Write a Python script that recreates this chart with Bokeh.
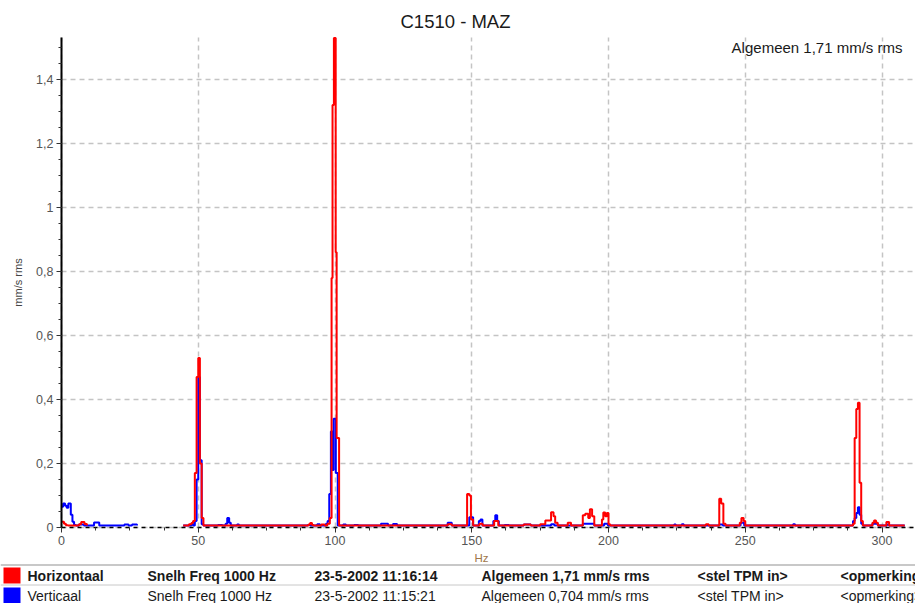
import math
from bokeh.plotting import figure
from bokeh.models import Range1d, FixedTicker, Grid
from bokeh.embed import file_html
from bokeh.resources import INLINE
from bokeh.core.properties import value

nan = float("nan")

# ---- data: Horizontaal (red) spectrum, step segments (Hz start, mm/s rms) ----
h_freq = [0.0, 0.9, 1.6, 2.4, 6.4, 7.2, 8.4, 9.3, 28.3, 37.5, 38.6, 44.5, 46.6, 47.5, 48.1,
          48.75, 49.4, 50.0, 50.6, 51.25, 51.9, 90.3, 90.9, 91.6, 92.2, 95.0, 96.2, 97.2, 98.1,
          98.75, 99.1, 99.6, 100.25, 100.6, 101.5, 141.2, 142.7, 148.3, 149.1, 149.7, 150.5,
          152.8, 154.0, 158.2, 159.7, 169.0, 171.6, 175.0, 176.9, 179.0, 179.9, 180.5, 181.4,
          185.1, 186.3, 190.6, 191.5, 192.6, 193.2, 194.0, 194.8, 197.6, 198.1, 198.8, 199.4,
          200.0, 200.6, 235.6, 236.6, 240.5, 241.2, 242.0, 242.8, 248.0, 248.6, 249.4, 250.0,
          289.4, 290.0, 290.6, 291.2, 291.8, 292.4, 293.0, 296.5, 297.1, 297.8, 298.5, 301.6,
          302.6, 308.3]
h_val = [0.018, 0.012, 0.007, 0.006, 0.010, 0.017, 0.011, 0.006, nan, 0.006, nan, 0.006, 0.010, 0.014, 0.020,
         0.17, 0.47, 0.53, 0.20, 0.03, 0.006, 0.009, 0.014, 0.008, 0.006, 0.009, 0.006, 0.012, 0.03,
         0.78, 1.32, 1.53, 0.86, 0.28, 0.006, 0.010, 0.006, 0.105, 0.10, 0.025, 0.006,
         0.012, 0.006, 0.020, 0.006, 0.009, 0.006, 0.010, 0.022, 0.048, 0.035, 0.015, 0.006,
         0.015, 0.006, 0.038, 0.043, 0.030, 0.057, 0.035, 0.006, 0.025, 0.047, 0.035, 0.045,
         0.010, 0.006, 0.010, 0.006, 0.09, 0.075, 0.012, 0.006, 0.015, 0.030, 0.020, 0.006,
         0.012, 0.28, 0.37, 0.39, 0.14, 0.02, 0.006, 0.015, 0.022, 0.015, 0.006, 0.017,
         0.006, 0.006]

# ---- data: Verticaal (blue) spectrum ----
v_freq = [0.0, 0.6, 1.3, 1.9, 2.5, 3.4, 4.0, 4.6, 5.3, 6.4, 8.2, 11.9, 13.8, 23.0, 24.5, 25.8, 27.6,
          28.3, 44.5, 47.5, 48.1, 48.75, 49.4, 50.0, 50.6, 51.25, 51.9, 57.2, 58.8, 60.0, 60.6,
          61.3, 61.9, 64.2, 64.9, 90.0, 91.0, 93.5, 94.5, 96.7, 97.3, 97.9, 98.5, 99.0, 99.5,
          100.3, 101.0, 103.0, 104.0, 107.0, 108.5, 116.8, 119.4, 121.2, 122.7, 141.2, 142.7,
          149.1, 150.5, 152.6, 153.2, 153.9, 157.9, 158.6, 159.3, 159.9, 162.0, 163.6, 169.0,
          171.6, 179.0, 180.2, 190.6, 194.8, 198.4, 199.8, 224.0, 224.6, 226.8, 227.5, 240.5,
          241.8, 248.3, 249.6, 267.5, 268.2, 289.4, 290.0, 290.6, 291.2, 291.8, 292.4, 293.0,
          296.5, 298.5, 301.8, 302.6, 308.3]
v_val = [0.065, 0.075, 0.068, 0.062, 0.075, 0.040, 0.018, 0.008, 0.006, 0.009, 0.006, 0.016, 0.006, 0.009, 0.006, 0.009, 0.006,
         nan, 0.006, 0.012, 0.006, 0.02, 0.15, 0.47, 0.21, 0.01, 0.006, 0.008, 0.006, 0.012, 0.030,
         0.015, 0.006, 0.009, 0.006, 0.008, 0.006, 0.010, 0.006, 0.012, 0.02, 0.105, 0.30, 0.18, 0.34,
         0.17, 0.006, 0.009, 0.006, 0.008, 0.006, 0.012, 0.006, 0.011, 0.006, 0.015, 0.006,
         0.032, 0.006, 0.020, 0.025, 0.006, 0.020, 0.038, 0.020, 0.006, 0.008, 0.006, 0.009,
         0.006, 0.010, 0.006, 0.012, 0.006, 0.012, 0.006, 0.009, 0.006, 0.010, 0.006, 0.009,
         0.006, 0.015, 0.006, 0.010, 0.006, 0.020, 0.030, 0.045, 0.063, 0.040, 0.012, 0.006,
         0.012, 0.006, 0.009, 0.006, 0.006]

# ---- axes ticks / labels ----
x_ticks = [0, 50, 100, 150, 200, 250, 300]
x_minor = [0, 12.5, 25, 37.5, 50, 62.5, 75, 87.5, 100, 112.5, 125, 137.5, 150, 162.5, 175,
           187.5, 200, 212.5, 225, 237.5, 250, 262.5, 275, 287.5, 300]
y_ticks = [0, 0.2, 0.4, 0.6, 0.8, 1.0, 1.2, 1.4]
y_tick_labels = ["0", "0,2", "0,4", "0,6", "0,8", "1", "1,2", "1,4"]
y_minor = [0, 0.05, 0.1, 0.15, 0.2, 0.25, 0.3, 0.35, 0.4, 0.45, 0.5, 0.55, 0.6, 0.65, 0.7, 0.75,
           0.8, 0.85, 0.9, 0.95, 1.0, 1.05, 1.1, 1.15, 1.2, 1.25, 1.3, 1.35, 1.4, 1.45, 1.5]
x_max = 312.3
y_max = 1.53

# ---- legend table ----
series_names = ["Horizontaal", "Verticaal"]
series_colors = ["#ff0000", "#0000ff"]
mode_text = ["Snelh Freq 1000 Hz", "Snelh Freq 1000 Hz"]
date_text = ["23-5-2002 11:16:14", "23-5-2002 11:15:21"]
overall_text = ["Algemeen 1,71 mm/s rms", "Algemeen 0,704 mm/s rms"]
rpm_text = ["<stel TPM in>", "<stel TPM in>"]
note_text = ["<opmerking>", "<opmerking>"]

title_text = "C1510 - MAZ"
x_label = "Hz"
y_label = "mm/s rms"

FONT = "Liberation Sans"
W, H = 915, 603
X0, XS = 61.0, 2.735      # pixel of 0 Hz, pixels per Hz
Y0, YS = 527.0, 320.0     # pixel of 0 mm/s, pixels per mm/s


def dx(px):   # page pixel -> data x (for placing texts / legend pieces)
    return (px - X0) / XS


def dy(py):
    return (Y0 - py) / YS


p = figure(width=W, height=H, output_backend="svg", toolbar_location=None,
           x_range=Range1d(dx(0), dx(W)), y_range=Range1d(dy(H), dy(0)),
           min_border_left=0, min_border_right=0, min_border_top=0, min_border_bottom=0,
           title=None)
p.outline_line_color = None
p.background_fill_color = "white"
p.border_fill_color = "white"

# axes fixed at the origin, inside the full-canvas frame
p.xaxis.fixed_location = 0
p.yaxis.fixed_location = 0
p.xaxis.bounds = (0, x_max)
p.yaxis.bounds = (0, y_max)
p.xaxis.ticker = FixedTicker(ticks=x_ticks, minor_ticks=x_minor)
p.yaxis.ticker = FixedTicker(ticks=y_ticks, minor_ticks=y_minor)
p.yaxis.major_label_overrides = dict(zip(y_ticks, y_tick_labels))

for ax in (p.xaxis[0], p.yaxis[0]):
    ax.major_tick_out = 5
    ax.major_tick_in = 0
    ax.minor_tick_out = 3
    ax.minor_tick_in = 0
    ax.major_tick_line_color = "#333333"
    ax.minor_tick_line_color = "#333333"
    ax.major_label_text_font = FONT
    ax.major_label_text_font_size = "12.5px"
    ax.major_label_text_color = "#555555"
    ax.major_label_standoff = 3

p.xaxis.axis_line_color = "black"
p.xaxis.axis_line_width = 1.5
p.xaxis.axis_line_dash = "4 4"
p.yaxis.axis_line_color = "black"
p.yaxis.axis_line_width = 2

# grid limited to the data area
has_cross = "cross_bounds" in Grid.properties()
if has_cross:
    p.xgrid.cross_bounds = (0, y_max)
    p.ygrid.cross_bounds = (0, x_max)
    p.grid.grid_line_color = "#c4c4c4"
    p.grid.grid_line_dash = "5 4"
    p.grid.grid_line_width = 1.5
else:
    p.grid.visible = False
    gx = x_ticks[1:]
    gy = y_ticks[1:]
    p.segment(x0=gx, y0=[0] * len(gx), x1=gx, y1=[y_max] * len(gx),
              line_color="#c4c4c4", line_dash="5 4", line_width=1.5)
    p.segment(x0=[0] * len(gy), y0=gy, x1=[x_max] * len(gy), y1=gy,
              line_color="#c4c4c4", line_dash="5 4", line_width=1.5)

# spectra
p.step(x=v_freq, y=v_val, mode="after", line_color=series_colors[1], line_width=2)
p.step(x=h_freq, y=h_val, mode="after", line_color=series_colors[0], line_width=2)

# texts
p.text(x=[dx(455)], y=[dy(20.5)], text=[title_text], text_align="center", text_baseline="middle",
       text_font=value(FONT), text_font_size="18.5px", text_color="#1a1a1a")
p.text(x=[dx(902)], y=[dy(47)], text=[overall_text[0]], text_align="right", text_baseline="middle",
       text_font=value(FONT), text_font_size="15px", text_color="#1a1a1a")
p.text(x=[dx(17)], y=[dy(282)], text=[y_label], angle=math.pi / 2, text_align="center",
       text_baseline="middle", text_font=value(FONT), text_font_size="11px", text_color="#444444")
p.text(x=[dx(481)], y=[dy(557)], text=[x_label], text_align="center", text_baseline="middle",
       text_font=value(FONT), text_font_size="11.5px", text_color="#a0764a")

# info table
p.segment(x0=[dx(0)], y0=[dy(564.5)], x1=[dx(W)], y1=[dy(564.5)], line_color="#c8c8c8", line_width=2)
p.segment(x0=[dx(0)], y0=[dy(584.5)], x1=[dx(W)], y1=[dy(584.5)], line_color="#c8c8c8", line_width=1)

row_y = [575, 595]
row_box = [(567, 583), (587, 603)]
col_x = [27, 147, 314, 481, 697, 840]
p.quad(left=[dx(3)] * 2, right=[dx(20)] * 2, top=[dy(t) for t, b in row_box],
       bottom=[dy(b) for t, b in row_box], fill_color=series_colors, line_color=None)
for i in range(2):
    texts = [series_names[i], mode_text[i], date_text[i], overall_text[i], rpm_text[i], note_text[i]]
    p.text(x=[dx(c) for c in col_x], y=[dy(row_y[i])] * len(col_x), text=texts,
           text_align="left", text_baseline="middle", text_font=value(FONT),
           text_font_size="14px", text_font_style="bold" if i == 0 else "normal",
           text_color="#1a1a1a")

open("out.html", "w").write(file_html(p, INLINE))
